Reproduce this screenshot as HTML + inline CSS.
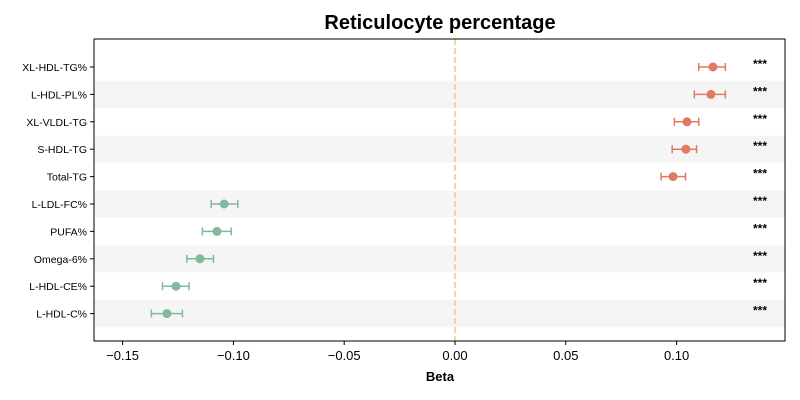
<!DOCTYPE html>
<html><head><meta charset="utf-8"><style>
body{margin:0;background:#fff;}
svg{display:block;font-family:"Liberation Sans","DejaVu Sans",sans-serif;}
</style></head><body>
<svg id="chart" width="800" height="400">
<text x="440" y="29" text-anchor="middle" font-size="20" font-weight="bold">Reticulocyte percentage</text>
<g id="bands"></g>
<line x1="455" y1="39" x2="455" y2="341" stroke="#f5c77e" stroke-width="1.5" stroke-dasharray="6,3"/>
<g id="marks"></g>
<rect x="94" y="39" width="691" height="302" fill="none" stroke="#000" stroke-width="1"/>
<g id="axes"></g>
<text x="440" y="381" text-anchor="middle" font-size="13" font-weight="bold">Beta</text>
</svg>
<script>
const labels=["XL-HDL-TG%","L-HDL-PL%","XL-VLDL-TG","S-HDL-TG","Total-TG","L-LDL-FC%","PUFA%","Omega-6%","L-HDL-CE%","L-HDL-C%"];
const betas=[0.1164,0.1155,0.1047,0.1042,0.0984,-0.1042,-0.1074,-0.1151,-0.1259,-0.130];
const ciLow=[0.110,0.108,0.099,0.098,0.093,-0.110,-0.114,-0.121,-0.132,-0.137];
const ciHigh=[0.122,0.122,0.110,0.109,0.104,-0.098,-0.101,-0.109,-0.120,-0.123];
const sig=["***","***","***","***","***","***","***","***","***","***"];
const xTicks=[-0.15,-0.10,-0.05,0.00,0.05,0.10];
const xTickLabels=["\u22120.15","\u22120.10","\u22120.05","0.00","0.05","0.10"];
const NS="http://www.w3.org/2000/svg";
const xs=v=>455+v*2216;
const ys=i=>67+i*27.4;
function mk(t,a,p){const e=document.createElementNS(NS,t);for(const k in a)e.setAttribute(k,a[k]);p.appendChild(e);return e;}
const bands=document.getElementById('bands'),marks=document.getElementById('marks'),axes=document.getElementById('axes');
labels.forEach((l,i)=>{
 const y=ys(i);
 if(i%2===1){const b=mk('rect',{x:94,y:y-13.7,width:691,height:27.4,fill:'#f5f5f5'},bands);
 
 }
 const c=betas[i]>0?'#e07b62':'#84b89c';
 const g=mk('g',{},marks);
 
 
 mk('line',{x1:xs(ciLow[i]),x2:xs(ciHigh[i]),y1:y,y2:y,stroke:c,'stroke-width':1.5},g);
 mk('line',{x1:xs(ciLow[i]),x2:xs(ciLow[i]),y1:y-4,y2:y+4,stroke:c,'stroke-width':1.5},g);
 mk('line',{x1:xs(ciHigh[i]),x2:xs(ciHigh[i]),y1:y-4,y2:y+4,stroke:c,'stroke-width':1.5},g);
 mk('circle',{cx:xs(betas[i]),cy:y,r:4.5,fill:c},g);
 const s=mk('text',{x:760,y:y+1,'text-anchor':'middle','font-size':12,'font-weight':'bold'},marks);s.textContent=sig[i];
 
 
 mk('line',{x1:90,x2:94,y1:y,y2:y,stroke:'#000'},axes);
 const t=mk('text',{x:87,y:y+4,'text-anchor':'end','font-size':10.5},axes);t.textContent=l;
 
 
});
xTicks.forEach((v,i)=>{
 const x=xs(v);
 mk('line',{x1:x,x2:x,y1:341,y2:345,stroke:'#000'},axes);
 const t=mk('text',{x:x,y:360,'text-anchor':'middle','font-size':13},axes);t.textContent=xTickLabels[i];
 
 
});
</script>
</body></html>
